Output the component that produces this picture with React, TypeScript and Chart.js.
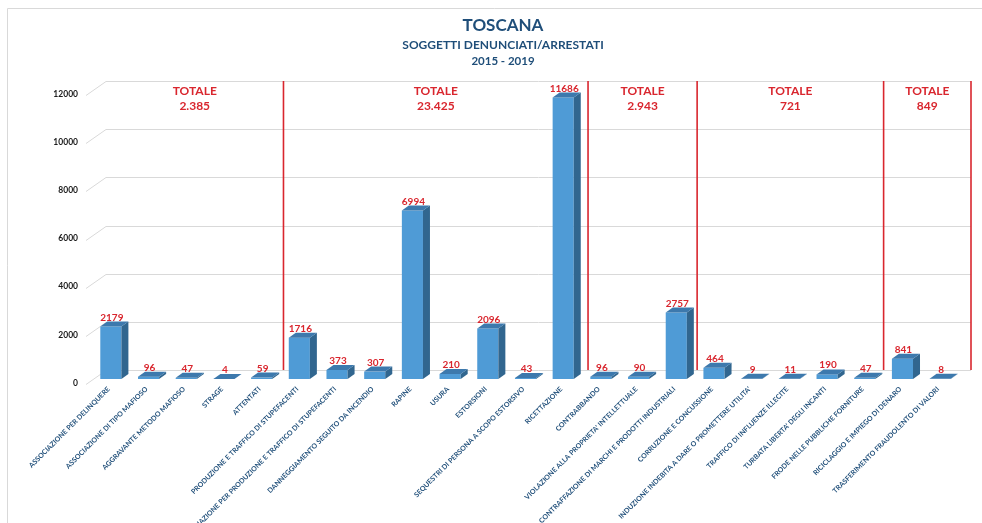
import React, { useEffect, useRef } from 'react';
import { Chart, registerables } from 'chart.js';

Chart.register(...registerables);

const categories = [
  'ASSOCIAZIONE PER DELINQUERE',
  'ASSOCIAZIONE DI TIPO MAFIOSO',
  'AGGRAVANTE METODO MAFIOSO',
  'STRAGE',
  'ATTENTATI',
  'PRODUZIONE E TRAFFICO DI STUPEFACENTI',
  'ASSOCIAZIONE PER PRODUZIONE E TRAFFICO DI STUPEFACENTI',
  'DANNEGGIAMENTO SEGUITO DA INCENDIO',
  'RAPINE',
  'USURA',
  'ESTORSIONI',
  'SEQUESTRI DI PERSONA A SCOPO ESTORSIVO',
  'RICETTAZIONE',
  'CONTRABBANDO',
  "VIOLAZIONE ALLA PROPRIETA' INTELLETTUALE",
  'CONTRAFFAZIONE DI MARCHI E PRODOTTI INDUSTRIALI',
  'CORRUZIONE E CONCUSSIONE',
  "INDUZIONE INDEBITA A DARE O PROMETTERE UTILITA'",
  'TRAFFICO DI INFLUENZE ILLECITE',
  "TURBATA LIBERTA' DEGLI INCANTI",
  'FRODE NELLE PUBBLICHE FORNITURE',
  'RICICLAGGIO E IMPIEGO DI DENARO',
  'TRASFERIMENTO FRAUDOLENTO DI VALORI',
];

const values = [2179, 96, 47, 4, 59, 1716, 373, 307, 6994, 210, 2096, 43, 11686, 96, 90, 2757, 464, 9, 11, 190, 47, 841, 8];

const yTicks = [0, 2000, 4000, 6000, 8000, 10000, 12000];

const groupSizes = [5, 8, 3, 5, 2];
const groupTotals = ['2.385', '23.425', '2.943', '721', '849'];

const titleLines = ['TOSCANA', 'SOGGETTI DENUNCIATI/ARRESTATI', '2015 - 2019'];

const FRONT = '#4F9BD6';
const SIDE = '#31668F';
const TOPC = '#3D79AD';
const RED = '#D9262E';
const NAVY = '#1F4E79';
const GRID = '#D9D9D9';
const FONT = 'Lato, "Open Sans", sans-serif';

const DX = 7;
const DY = 5;
const WALL_DX = 20;
const WALL_DY = -9;
const LINE_NUDGE = [3, 6, 2, 0];

const excel3d = {
  id: 'excel3d',
  beforeDatasetsDraw(chart: any) {
    const { ctx, chartArea: a, scales } = chart;
    const x = scales.x;
    const y = scales.y;
    ctx.save();
    // outer frame
    ctx.strokeStyle = GRID;
    ctx.lineWidth = 1;
    ctx.beginPath();
    ctx.moveTo(7.5, chart.height);
    ctx.lineTo(7.5, 8.5);
    ctx.lineTo(chart.width, 8.5);
    ctx.stroke();

    const wallLeft = a.left + WALL_DX - 6;
    const right = a.right + 12;
    // gridlines with perspective connectors
    yTicks.forEach((v) => {
      const py = Math.round(y.getPixelForValue(v));
      ctx.beginPath();
      ctx.moveTo(a.left - 6, py + 5.5);
      ctx.lineTo(wallLeft, py + WALL_DY + 0.5);
      ctx.lineTo(right, py + WALL_DY + 0.5);
      ctx.stroke();
    });

    // group separators
    const top = y.getPixelForValue(yTicks[yTicks.length - 1]) + WALL_DY;
    const bot = y.getPixelForValue(0) + WALL_DY;
    const xs: number[] = [wallLeft];
    let idx = 0;
    groupSizes.forEach((n, g) => {
      idx += n;
      let px: number;
      if (idx >= values.length) px = right;
      else px = (x.getPixelForValue(idx - 1) + x.getPixelForValue(idx)) / 2 + LINE_NUDGE[g];
      xs.push(px);
    });
    ctx.strokeStyle = RED;
    ctx.lineWidth = 1.6;
    xs.slice(1).forEach((px) => {
      ctx.beginPath();
      ctx.moveTo(px, top);
      ctx.lineTo(px, bot);
      ctx.stroke();
    });

    // totals
    ctx.fillStyle = RED;
    ctx.font = `bold 12px ${FONT}`;
    ctx.textAlign = 'center';
    ctx.textBaseline = 'middle';
    groupTotals.forEach((t, g) => {
      const cx = (xs[g] + xs[g + 1]) / 2;
      ctx.fillText('TOTALE', cx, a.top + 1);
      ctx.fillText(t, cx, a.top + 16);
    });
    ctx.restore();
  },
  afterDatasetsDraw(chart: any) {
    const { ctx } = chart;
    const meta = chart.getDatasetMeta(0);
    ctx.save();
    meta.data.forEach((el: any, i: number) => {
      const { x, y, base, width } = el.getProps(['x', 'y', 'base', 'width'], true);
      const l = x - width / 2;
      const r = x + width / 2;
      // side face
      ctx.fillStyle = SIDE;
      ctx.beginPath();
      ctx.moveTo(r, y);
      ctx.lineTo(r + DX, y - DY);
      ctx.lineTo(r + DX, base - DY);
      ctx.lineTo(r, base);
      ctx.closePath();
      ctx.fill();
      // top face
      ctx.fillStyle = TOPC;
      ctx.beginPath();
      ctx.moveTo(l, y);
      ctx.lineTo(l + DX, y - DY);
      ctx.lineTo(r + DX, y - DY);
      ctx.lineTo(r, y);
      ctx.closePath();
      ctx.fill();
      // value label
      ctx.fillStyle = RED;
      ctx.font = `bold 10px ${FONT}`;
      ctx.textAlign = 'center';
      ctx.textBaseline = 'alphabetic';
      ctx.fillText(String(values[i]), x + 1, y - DY - 1);
    });
    ctx.restore();
  },
  afterDraw(chart: any) {
    const { ctx } = chart;
    ctx.save();
    ctx.fillStyle = NAVY;
    ctx.textAlign = 'center';
    ctx.textBaseline = 'middle';
    const cx = 503;
    ctx.font = `bold 17px ${FONT}`;
    ctx.fillText(titleLines[0], cx, 26);
    ctx.font = `bold 12px ${FONT}`;
    ctx.fillText(titleLines[1], cx, 45);
    ctx.font = `bold 11.5px ${FONT}`;
    ctx.fillText(titleLines[2], cx, 61);
    ctx.restore();
  },
};

export default function App() {
  const ref = useRef<HTMLCanvasElement | null>(null);
  useEffect(() => {
    if (!ref.current) return;
    const chart = new Chart(ref.current, {
      type: 'bar',
      data: {
        labels: categories,
        datasets: [
          {
            data: values,
            backgroundColor: FRONT,
            borderWidth: 0,
            barPercentage: 0.56,
            categoryPercentage: 1,
          },
        ],
      },
      options: {
        responsive: false,
        animation: false,
        layout: { padding: { top: 90, right: 23, left: 0, bottom: 0 } },
        plugins: {
          legend: { display: false },
          title: { display: false },
          tooltip: { enabled: false },
        },
        scales: {
          x: {
            grid: { display: false, drawTicks: false },
            border: { display: false },
            ticks: {
              autoSkip: false,
              minRotation: 45,
              maxRotation: 45,
              padding: 6,
              labelOffset: -2,
              color: NAVY,
              font: { family: FONT, size: 7, weight: 'bold' },
            },
            afterFit: (s: any) => {
              s.height = 144;
            },
          },
          y: {
            min: 0,
            max: 12000,
            grid: { display: false, drawTicks: false },
            border: { display: false },
            ticks: {
              stepSize: 2000,
              padding: 14,
              labelOffset: 4,
              color: '#1A1A1A',
              font: { family: FONT, size: 8.5, weight: 'bold' },
              callback: (v: any) => String(v),
            },
            afterFit: (s: any) => {
              s.width = 92;
            },
          },
        },
      },
      plugins: [excel3d],
    });
    return () => chart.destroy();
  }, []);
  return (
    <div style={{ position: 'absolute', left: 0, top: 0, width: 982, height: 523, background: '#fff' }}>
      <canvas ref={ref} width={982} height={523} style={{ display: 'block' }} />
    </div>
  );
}
